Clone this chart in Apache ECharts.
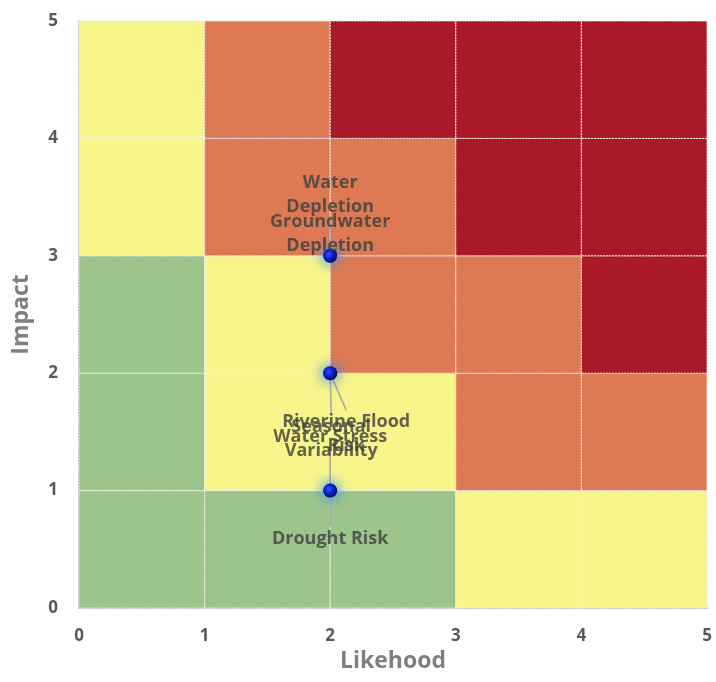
<!DOCTYPE html>
<html>
<head>
<meta charset="utf-8">
<script src="https://cdn.jsdelivr.net/npm/echarts@6/dist/echarts.min.js"></script>
<style>
  html, body { margin: 0; padding: 0; background: #ffffff; }
  #chart { width: 716px; height: 682px; }
</style>
</head>
<body>
<div id="chart"></div>
<script>
// Risk matrix levels per cell, rows listed from Impact 0-1 (bottom) to 4-5 (top),
// columns from Likehood 0-1 to 4-5. 0 = low, 1 = moderate, 2 = high, 3 = severe.
const matrixRows = [
  [0, 0, 0, 1, 1],
  [0, 1, 1, 2, 2],
  [0, 1, 2, 2, 3],
  [1, 2, 2, 3, 3],
  [1, 2, 3, 3, 3]
];
const levelColors = ['#9DC48A', '#F8F58A', '#DE7A53', '#AA1927'];

// Assessed risks
const riskNames = ['Water\nDepletion', 'Groundwater\nDepletion', 'Riverine Flood\nRisk',
                   'Seasonal\nVariability', 'Water Stress', 'Drought Risk'];
const likehood = [2, 2, 2, 2, 2, 2];
const impact = [3, 3, 2, 2, 1, 1];

// Label offsets (px) from each marker
const labelShift = [[0, -61], [0, -22], [16, 61], [1, 66], [0, -54], [0, 48]];

const axisTicks = [0, 1, 2, 3, 4, 5];

const cells = [];
matrixRows.forEach((row, y) => row.forEach((lvl, x) => cells.push([x, y, lvl])));

const points = riskNames.map((n, i) => ({ name: n, value: [likehood[i], impact[i]] }));

const labelFont = { fontFamily: 'Open Sans', fontWeight: 'bold' };

const chart = echarts.init(document.getElementById('chart'), null, { renderer: 'canvas' });
chart.setOption({
  animation: false,
  grid: { left: 79, right: 9, top: 21, bottom: 74 },
  xAxis: {
    type: 'value', min: axisTicks[0], max: axisTicks[axisTicks.length - 1], interval: 1,
    name: 'Likehood', nameLocation: 'middle', nameGap: 41,
    nameTextStyle: { color: '#7F7F7F', fontSize: 23, ...labelFont },
    axisLine: { show: true, lineStyle: { color: '#BFBFBF', width: 2 } },
    axisTick: { show: false },
    splitLine: { show: false },
    axisLabel: { color: '#595959', fontSize: 17, margin: 20, ...labelFont }
  },
  yAxis: {
    type: 'value', min: axisTicks[0], max: axisTicks[axisTicks.length - 1], interval: 1,
    name: 'Impact', nameLocation: 'middle', nameGap: 46, nameRotate: 90,
    nameTextStyle: { color: '#7F7F7F', fontSize: 23, ...labelFont },
    axisLine: { show: true, lineStyle: { color: '#BFBFBF', width: 2 } },
    axisTick: { show: false },
    splitLine: { show: false },
    axisLabel: { color: '#595959', fontSize: 17, margin: 21, ...labelFont }
  },
  series: [
    {
      type: 'custom',
      data: cells,
      z: 1,
      silent: true,
      renderItem: function (params, api) {
        const x = api.value(0), y = api.value(1), lvl = api.value(2);
        const p0 = api.coord([x, y + 1]);
        const p1 = api.coord([x + 1, y]);
        return {
          type: 'rect',
          shape: { x: p0[0], y: p0[1], width: p1[0] - p0[0], height: p1[1] - p0[1] },
          style: {
            fill: levelColors[lvl],
            stroke: '#EDEDED',
            lineWidth: 1,
            lineDash: [2, 1]
          }
        };
      }
    },
    {
      type: 'scatter',
      data: points,
      z: 5,
      symbol: 'circle',
      symbolSize: 14,
      itemStyle: {
        color: {
          type: 'radial', x: 0.4, y: 0.4, r: 0.65,
          colorStops: [
            { offset: 0, color: '#2E4CFF' },
            { offset: 0.5, color: '#0010D8' },
            { offset: 1, color: '#000030' }
          ]
        },
        shadowBlur: 14,
        shadowColor: 'rgba(50,140,235,1)'
      },
      label: {
        show: true,
        position: 'inside',
        formatter: p => p.name,
        color: '#3F3F3F',
        fontSize: 18,
        lineHeight: 24,
        align: 'center',
        ...labelFont
      },
      labelLine: {
        show: true,
        lineStyle: { color: '#A6A6A6', width: 1.5 }
      },
      labelLayout: function (params) {
        const s = labelShift[params.dataIndex];
        return { dx: s[0], dy: s[1] };
      }
    }
  ]
});
</script>
</body>
</html>
